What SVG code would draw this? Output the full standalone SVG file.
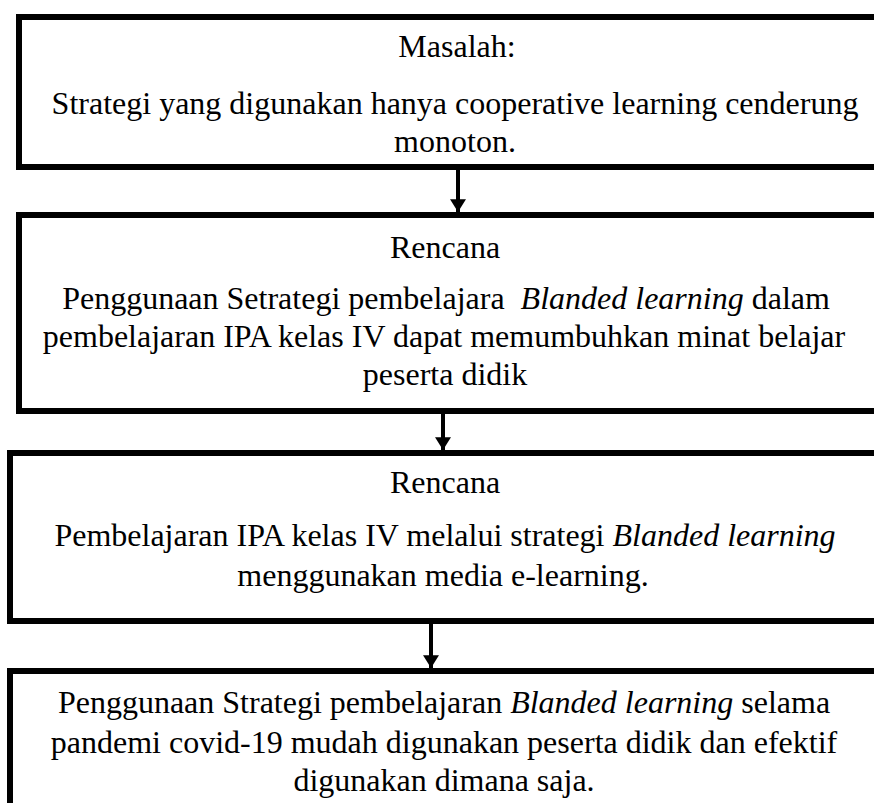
<svg xmlns="http://www.w3.org/2000/svg" width="874" height="803" viewBox="0 0 874 803">
<style>
.box{fill:#fff;stroke:#000;stroke-width:6}
text{font-family:"Liberation Serif","Times New Roman",serif;font-size:32px;fill:#000;text-anchor:middle;white-space:pre}
.i{font-style:italic}
.conn line{stroke:#000;stroke-width:4}
</style>
<defs>
<marker id="ah" markerWidth="3.2" markerHeight="4" refX="3.2" refY="2" orient="auto" markerUnits="strokeWidth">
<path d="M0,0 L3.2,2 L0,4 Z" fill="#000"/>
</marker>
</defs>
<rect width="874" height="803" fill="#fff"/>
<g id="node1">
<rect class="box" x="19" y="17" width="900" height="150"/>
<text x="457" y="57">Masalah:</text>
<text x="455" y="114">Strategi yang digunakan hanya cooperative learning cenderung</text>
<text x="455" y="152">monoton.</text>
</g>
<g id="node2">
<rect class="box" x="19" y="215" width="900" height="196"/>
<text x="445" y="258">Rencana</text>
<text x="446" y="309">Penggunaan Setrategi pembelajara  <tspan class="i">Blanded learning</tspan> dalam</text>
<text x="444" y="347">pembelajaran IPA kelas IV dapat memumbuhkan minat belajar</text>
<text x="445" y="385">peserta didik</text>
</g>
<g id="node3">
<rect class="box" x="10" y="453" width="900" height="168"/>
<text x="445" y="493">Rencana</text>
<text x="445" y="546">Pembelajaran IPA kelas IV melalui strategi <tspan class="i">Blanded learning</tspan></text>
<text x="443" y="586">menggunakan media e-learning.</text>
</g>
<g id="node4">
<rect class="box" x="10" y="671" width="900" height="200"/>
<text x="444" y="713">Penggunaan Strategi pembelajaran <tspan class="i">Blanded learning</tspan> selama</text>
<text x="444" y="753">pandemi covid-19 mudah digunakan peserta didik dan efektif</text>
<text x="444" y="791">digunakan dimana saja.</text>
</g>
<g class="conn" id="connectors">
<line x1="458" y1="170" x2="458" y2="212" marker-end="url(#ah)"/>
<line x1="443" y1="414" x2="443" y2="450" marker-end="url(#ah)"/>
<line x1="431" y1="624" x2="431" y2="668" marker-end="url(#ah)"/>
</g>
</svg>
